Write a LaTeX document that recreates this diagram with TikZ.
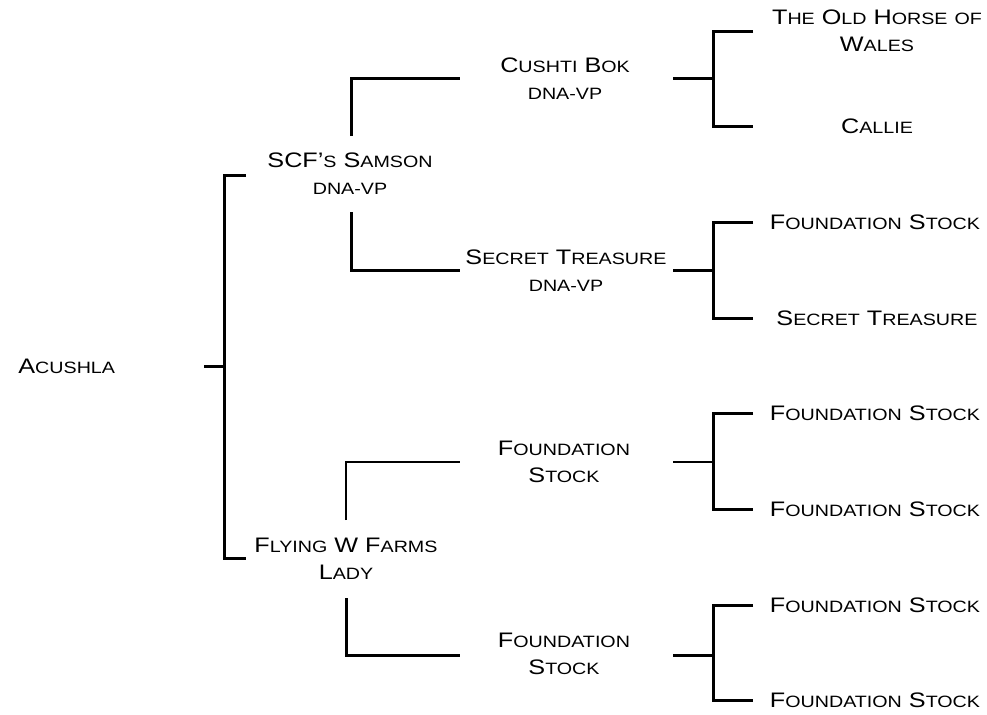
\documentclass[tikz,border=0pt]{standalone}
\usepackage{fontspec}
\setmainfont{Liberation Sans}[FakeStretch=1.2]
\usepackage{tikz}
\newcommand{\lc}[1]{{\fontsize{8.2pt}{13.5pt}\selectfont #1}}
\tikzset{
  font={\fontsize{10.5pt}{13.5pt}\selectfont},
  horse/.style={align=center, inner sep=0pt},
  pedline/.style={black, line width=1.5pt},
  thinline/.style={black, line width=0.75pt}}

\begin{document}
\begin{tikzpicture}[x=0.5pt,y=-0.5pt]
\useasboundingbox (0,0) rectangle (987,714);
% horses
\node [horse, anchor=west] (acushla) at (18,366) {A\lc{CUSHLA}};
\node [horse] (samson) at (350,173.5) {SCF'\lc{S} S\lc{AMSON}\\\lc{DNA-VP}};
\node [horse] (flying) at (346,558.5) {F\lc{LYING} W F\lc{ARMS}\\L\lc{ADY}};
\node [horse] (cushti) at (565,78.5) {C\lc{USHTI} B\lc{OK}\\\lc{DNA-VP}};
\node [horse] (treasure) at (566,270.5) {S\lc{ECRET} T\lc{REASURE}\\\lc{DNA-VP}};
\node [horse] (fstockA) at (564,462) {F\lc{OUNDATION}\\S\lc{TOCK}};
\node [horse] (fstockB) at (564,653.5) {F\lc{OUNDATION}\\S\lc{TOCK}};
\node [horse] (oldhorse) at (877,31) {T\lc{HE} O\lc{LD} H\lc{ORSE} \lc{OF}\\W\lc{ALES}};
\node [horse] (callie) at (877,126) {C\lc{ALLIE}};
\node [horse] (fstockC) at (875,222) {F\lc{OUNDATION} S\lc{TOCK}};
\node [horse] (treasureB) at (877,318) {S\lc{ECRET} T\lc{REASURE}};
\node [horse] (fstockD) at (875,413) {F\lc{OUNDATION} S\lc{TOCK}};
\node [horse] (fstockE) at (875,509) {F\lc{OUNDATION} S\lc{TOCK}};
\node [horse] (fstockF) at (875,605) {F\lc{OUNDATION} S\lc{TOCK}};
\node [horse] (fstockG) at (875,700) {F\lc{OUNDATION} S\lc{TOCK}};
% line ends
\coordinate (acushla-out) at (204,366);
\coordinate (acushla-mid) at (224,366);
\coordinate (samson-in) at (246,175);
\coordinate (flying-in) at (246,558);
\coordinate (samson-up) at (351,136);
\coordinate (samson-dn) at (351,212);
\coordinate (flying-up) at (346,520);
\coordinate (flying-dn) at (346,598);
\coordinate (cushti-in) at (460,78);
\coordinate (treasure-in) at (460,270);
\coordinate (fstockA-in) at (460,462);
\coordinate (fstockB-in) at (460,655);
\coordinate (cushti-out) at (673,78);
\coordinate (cushti-mid) at (713,78);
\coordinate (treasure-out) at (673,270);
\coordinate (treasure-mid) at (713,270);
\coordinate (fstockA-out) at (673,462);
\coordinate (fstockA-mid) at (713,462);
\coordinate (fstockB-out) at (673,655);
\coordinate (fstockB-mid) at (713,655);
\coordinate (oldhorse-in) at (753,31);
\coordinate (callie-in) at (753,126);
\coordinate (fstockC-in) at (753,222);
\coordinate (treasureB-in) at (753,318);
\coordinate (fstockD-in) at (753,413);
\coordinate (fstockE-in) at (753,509);
\coordinate (fstockF-in) at (753,605);
\coordinate (fstockG-in) at (753,700);
% brackets
\draw [pedline] (acushla-out) -- (acushla-mid);
\draw [pedline] (samson-in) -| (acushla-mid) |- (flying-in);
\draw [pedline] (samson-up) |- (cushti-in);
\draw [pedline] (samson-dn) |- (treasure-in);
\draw [thinline] (flying-up) |- (fstockA-in);
\draw [pedline] (flying-dn) |- (fstockB-in);
\draw [pedline] (cushti-out) -- (cushti-mid);
\draw [pedline] (oldhorse-in) -| (cushti-mid) |- (callie-in);
\draw [pedline] (treasure-out) -- (treasure-mid);
\draw [pedline] (fstockC-in) -| (treasure-mid) |- (treasureB-in);
\draw [thinline] (fstockA-out) -- (fstockA-mid);
\draw [pedline] (fstockD-in) -| (fstockA-mid) |- (fstockE-in);
\draw [pedline] (fstockB-out) -- (fstockB-mid);
\draw [pedline] (fstockF-in) -| (fstockB-mid) |- (fstockG-in);
\end{tikzpicture}
\end{document}
